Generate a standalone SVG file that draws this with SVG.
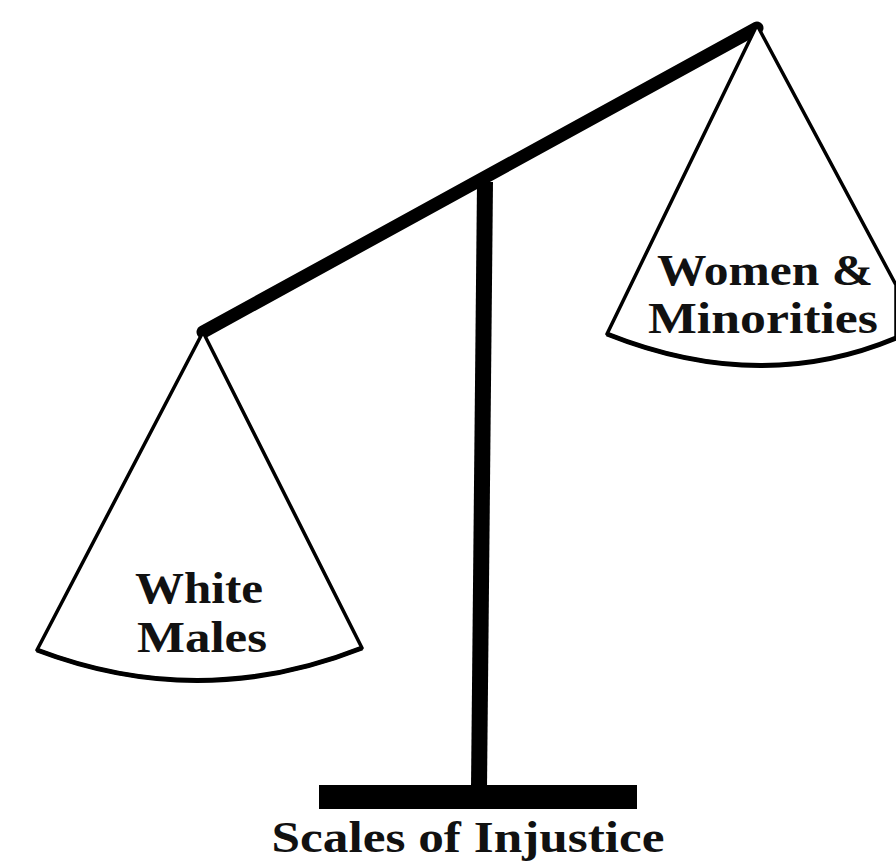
<svg xmlns="http://www.w3.org/2000/svg" width="896" height="866" viewBox="0 0 896 866">
<style>
.pan{fill:#fff;stroke:#000;stroke-width:3.5;stroke-linejoin:round}
.rim{fill:none;stroke:#000;stroke-width:5}
.lbl{font-family:"Liberation Serif","DejaVu Serif",serif;font-weight:bold;fill:#111;text-anchor:middle}
</style>
<rect width="896" height="866" fill="#fff"/>
<g id="post">
<line x1="485" y1="182" x2="479" y2="788" stroke="#000" stroke-width="16"/>
</g>
<g id="base">
<rect x="319" y="785" width="318" height="24" fill="#000"/>
</g>
<g id="beam">
<line x1="203" y1="332" x2="757" y2="28" stroke="#000" stroke-width="13" stroke-linecap="round"/>
</g>
<g id="left-pan">
<path class="pan" d="M203,332 L37,650 Q200,712 362,648 Z"/>
<path class="rim" d="M37,650 Q200,712 362,648"/>
<text class="lbl" x="199" y="603" font-size="44" textLength="128" lengthAdjust="spacingAndGlyphs">White</text>
<text class="lbl" x="202" y="652" font-size="44" textLength="130" lengthAdjust="spacingAndGlyphs">Males</text>
</g>
<g id="right-pan">
<path class="pan" d="M757,25 L607,334 Q760,395 896,338 L896,285 Z"/>
<path class="rim" d="M607,334 Q760,395 896,338"/>
<text class="lbl" x="765" y="285" font-size="44" textLength="216" lengthAdjust="spacingAndGlyphs">Women &amp;</text>
<text class="lbl" x="763" y="333" font-size="44" textLength="230" lengthAdjust="spacingAndGlyphs">Minorities</text>
</g>
<g id="caption">
<text class="lbl" x="468" y="852" font-size="44" textLength="393" lengthAdjust="spacingAndGlyphs">Scales of Injustice</text>
</g>
</svg>
